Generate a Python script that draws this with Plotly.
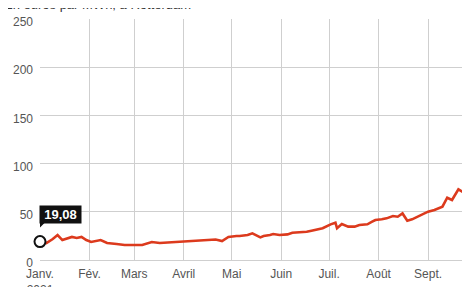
import plotly.graph_objects as go

# Data
dates = ["2021-01-01", "2021-01-05", "2021-01-09", "2021-01-12", "2021-01-15", "2021-01-19",
         "2021-01-21", "2021-01-24", "2021-01-27", "2021-01-30", "2021-02-02", "2021-02-08",
         "2021-02-12", "2021-02-18", "2021-02-23", "2021-03-01", "2021-03-06", "2021-03-12",
         "2021-03-17", "2021-03-27", "2021-04-05", "2021-04-14", "2021-04-21", "2021-04-25",
         "2021-04-29", "2021-05-04", "2021-05-06", "2021-05-11", "2021-05-14", "2021-05-19",
         "2021-05-21", "2021-05-25", "2021-05-27", "2021-05-31", "2021-06-05", "2021-06-08",
         "2021-06-13", "2021-06-17", "2021-06-20", "2021-06-24", "2021-06-27", "2021-07-02",
         "2021-07-05", "2021-07-06", "2021-07-09", "2021-07-13", "2021-07-17", "2021-07-20",
         "2021-07-25", "2021-07-28", "2021-07-30", "2021-08-03", "2021-08-06", "2021-08-10",
         "2021-08-13", "2021-08-16", "2021-08-19", "2021-08-22", "2021-08-24", "2021-08-28",
         "2021-09-01", "2021-09-05", "2021-09-10", "2021-09-13", "2021-09-16", "2021-09-20",
         "2021-09-23", "2021-09-27", "2021-09-29"]
prices = [19.08, 17.6, 21.8, 25.9, 20.7, 22.8,
          23.9, 22.8, 23.9, 20.7, 18.7, 20.7,
          17.6, 16.6, 15.6, 15.6, 15.6, 18.7,
          17.6, 18.7, 19.7, 20.7, 21.3, 19.7,
          23.9, 24.9, 24.9, 25.9, 27.7, 23.5,
          24.9, 25.9, 26.9, 25.9, 26.6, 28.3,
          28.7, 29.3, 30.4, 31.8, 32.9, 37.0,
          38.7, 32.9, 37.3, 34.6, 34.6, 36.3,
          37.0, 39.7, 41.5, 42.2, 43.2, 45.6,
          44.9, 48.3, 40.7, 42.2, 43.9, 47.4,
          50.1, 51.9, 55.3, 64.6, 62.2, 73.3,
          70.2, 80.6, 80.0]

tick_dates = ["2021-01-01", "2021-02-01", "2021-03-01", "2021-04-01", "2021-05-01",
              "2021-06-01", "2021-07-01", "2021-08-01", "2021-09-01"]
tick_labels = ["Janv.<br>2021", "Fév.", "Mars", "Avril", "Mai", "Juin", "Juil.", "Août", "Sept."]
y_ticks = [0, 50, 100, 150, 200, 250]

start_label = "19,08"
subtitle = "En euros par MWh, à Rotterdam"

FONT = "Liberation Sans"

fig = go.Figure()
fig.add_trace(go.Scatter(x=dates, y=prices, mode="lines",
                         line=dict(color="#dc3a1d", width=2.6),
                         hoverinfo="skip", showlegend=False))
fig.add_trace(go.Scatter(x=[dates[0]], y=[prices[0]], mode="markers",
                         marker=dict(size=11, color="white",
                                     line=dict(color="#111111", width=2)),
                         cliponaxis=False, hoverinfo="skip", showlegend=False))

fig.add_annotation(x=dates[0], y=prices[0], xref="x", yref="y",
                   text="<b>" + start_label + "</b>", showarrow=False,
                   xanchor="left", yanchor="bottom", yshift=18, xshift=-1,
                   width=41, height=17, borderpad=0, align="center",
                   bgcolor="#111111",
                   font=dict(family=FONT, size=13, color="white"))
fig.add_shape(type="path", xref="x", yref="y", xsizemode="pixel", ysizemode="pixel",
              xanchor=dates[0], yanchor=prices[0],
              path="M -1,19 L -1,13 L 5,19 Z", fillcolor="#111111", line=dict(width=0))

fig.add_annotation(x=0, y=1, xref="paper", yref="paper", text=subtitle, showarrow=False,
                   xanchor="left", yanchor="bottom", xshift=-38, yshift=5,
                   font=dict(family=FONT, size=13, color="#333333"))
fig.add_annotation(x=(476 - 40) / 430, y=0, xref="paper", yref="paper", text="Oct.",
                   showarrow=False, xanchor="center", yanchor="top", yshift=-4,
                   font=dict(family=FONT, size=12, color="#555555"))

# The page puts the figure 8 px in from the window's top-left corner.
fig.update_layout(
    width=470, height=287,
    margin=dict(l=32, r=8, t=11, b=35, autoexpand=False),
    paper_bgcolor="white", plot_bgcolor="white",
    font=dict(family=FONT, size=12, color="#555555"),
    xaxis=dict(type="date", range=["2021-01-01", "2021-09-27 06:14"],
               tickvals=tick_dates, ticktext=tick_labels, automargin=False,
               showgrid=True, gridcolor="#cfcfcf", gridwidth=1,
               showline=True, linecolor="#cfcfcf", linewidth=1,
               ticks="", ticklabelstandoff=3, zeroline=False, fixedrange=True),
    yaxis=dict(range=[0, 250], tickvals=y_ticks, automargin=False,
               showgrid=True, gridcolor="#cfcfcf", gridwidth=1,
               zeroline=False, showline=False, ticks="",
               ticklabelstandoff=6, ticklabelshift=3, fixedrange=True),
)

fig.write_html("out.html")
